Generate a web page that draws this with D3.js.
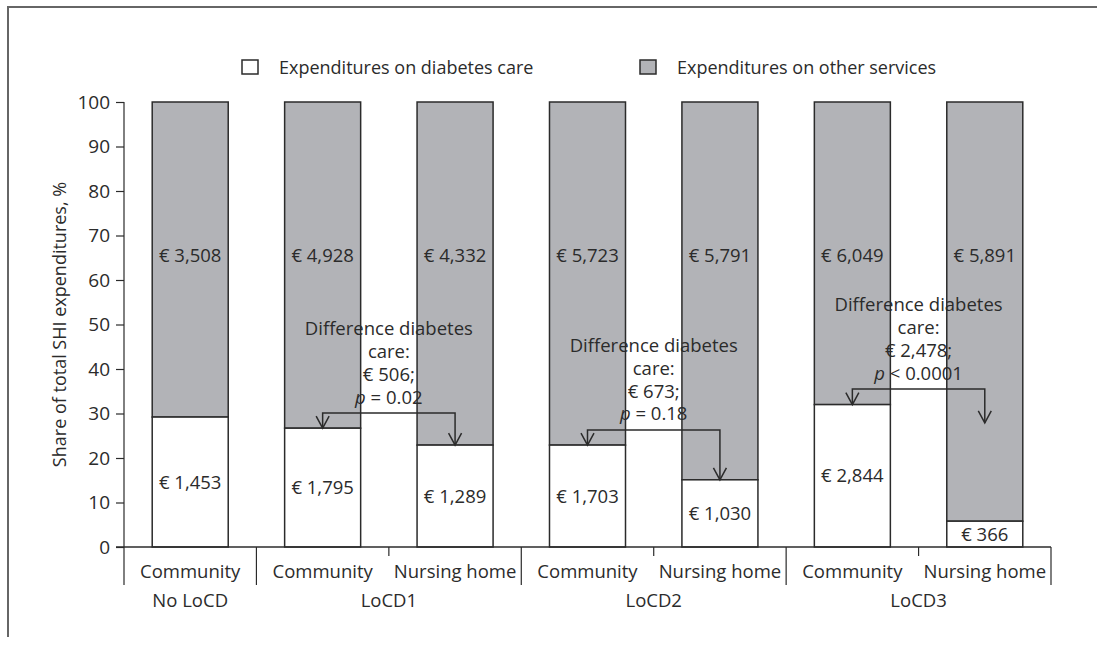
<!DOCTYPE html>
<html><head><meta charset="utf-8">
<script src="https://cdn.jsdelivr.net/npm/d3@7"></script>
<style>body{margin:0;background:#fff}svg{display:block}text{font-family:"Open Sans",sans-serif;fill:#2b2b2b}</style>
</head><body><svg id="c" width="1097" height="652"></svg>
<script>
const categories = ["Community","Community","Nursing home","Community","Nursing home","Community","Nursing home"];
const groups = ["No LoCD","LoCD1","LoCD1","LoCD2","LoCD2","LoCD3","LoCD3"];
const diabetesShare = [29.2, 26.7, 22.9, 22.9, 15.1, 32.0, 5.8];
const diabetesLabels = ["€ 1,453","€ 1,795","€ 1,289","€ 1,703","€ 1,030","€ 2,844","€ 366"];
const otherLabels = ["€ 3,508","€ 4,928","€ 4,332","€ 5,723","€ 5,791","€ 6,049","€ 5,891"];
const yTicks = [0,10,20,30,40,50,60,70,80,90,100];
const seriesNames = ["Expenditures on diabetes care","Expenditures on other services"];
const bracketFrom = [1,3,5];
const bracketTo = [2,4,6];
const bracketLevel = [30.1, 26.3, 35.5];
const bracketRightEnd = [22.9, 15.1, 27.9];
const bracketDiff = ["€ 506;","€ 673;","€ 2,478;"];
const bracketP = [" = 0.02"," = 0.18"," < 0.0001"];

const svg = d3.select("#c");
const ink = "#2b2b2b";
const grayFill = "#b2b3b7";
const fs = 18.5;

// frame
svg.append("line").attr("x1",8).attr("x2",1097).attr("y1",7).attr("y2",7).attr("stroke","#666").attr("stroke-width",2);
svg.append("line").attr("x1",8).attr("x2",8).attr("y1",6).attr("y2",637).attr("stroke","#666").attr("stroke-width",2);

const x = d3.scaleBand().domain(d3.range(categories.length)).range([124,1051]).padding(0);
const y = d3.scaleLinear().domain([0,100]).range([547,102]);
const barW = x.bandwidth()*0.574;
const cx = i => x(i)+x.bandwidth()/2;

// y axis
const yAxis = d3.axisLeft(y).tickValues(yTicks).tickSize(8).tickPadding(6);
const ga = svg.append("g").attr("transform","translate(124,0)").call(yAxis);
ga.select(".domain").remove();
ga.selectAll(".tick line").attr("stroke",ink).attr("stroke-width",1.2);
ga.selectAll(".tick text").attr("font-size",19).attr("font-family","Open Sans").attr("fill",ink);
svg.append("line").attr("x1",124).attr("x2",124).attr("y1",y(100)).attr("y2",585).attr("stroke",ink).attr("stroke-width",1.2);

svg.append("text").attr("transform",`translate(66,${(y(0)+y(100))/2}) rotate(-90)`)
  .attr("text-anchor","middle").attr("font-size",18).text("Share of total SHI expenditures, %");

// bars
const bars = svg.append("g");
categories.forEach((c,i)=>{
  bars.append("rect").attr("x",cx(i)-barW/2).attr("width",barW)
    .attr("y",y(100)).attr("height",y(diabetesShare[i])-y(100))
    .attr("fill",grayFill).attr("stroke",ink).attr("stroke-width",1.5);
  bars.append("rect").attr("x",cx(i)-barW/2).attr("width",barW)
    .attr("y",y(diabetesShare[i])).attr("height",y(0)-y(diabetesShare[i]))
    .attr("fill","#fff").attr("stroke",ink).attr("stroke-width",1.5);
  svg.append("text").attr("x",cx(i)).attr("y",y(diabetesShare[i]/2)+6.5).attr("text-anchor","middle")
    .attr("font-size",fs).text(diabetesLabels[i]);
  svg.append("text").attr("x",cx(i)).attr("y",y(65.5)+6.5).attr("text-anchor","middle")
    .attr("font-size",fs).text(otherLabels[i]);
});

// x axis line & dividers
svg.append("line").attr("x1",116).attr("x2",1051).attr("y1",y(0)).attr("y2",y(0)).attr("stroke",ink).attr("stroke-width",1.5);
for(let i=1;i<=categories.length;i++){
  const xb = x(i-1)+x.bandwidth();
  const long = i===categories.length || groups[i]!==groups[i-1];
  svg.append("line").attr("x1",xb).attr("x2",xb).attr("y1",y(0)).attr("y2",long?585:556)
    .attr("stroke",ink).attr("stroke-width",1.2);
}
categories.forEach((c,i)=>{
  svg.append("text").attr("x",cx(i)).attr("y",578).attr("text-anchor","middle").attr("font-size",fs).text(c);
});
const uniq = Array.from(new Set(groups));
uniq.forEach(g=>{
  const idx = groups.map((v,i)=>v===g?i:-1).filter(v=>v>=0);
  const mid = (x(idx[0]) + x(idx[idx.length-1])+x.bandwidth())/2;
  svg.append("text").attr("x",mid).attr("y",607).attr("text-anchor","middle").attr("font-size",fs).text(g);
});

// brackets
function arrowHead(px,py){
  svg.append("path").attr("d",`M${px-6.5},${py-12}L${px},${py}L${px+6.5},${py-12}`)
    .attr("fill","none").attr("stroke",ink).attr("stroke-width",1.5);
}
bracketFrom.forEach((a,k)=>{
  const b = bracketTo[k];
  const ly = y(bracketLevel[k]);
  const x1 = cx(a), x2 = cx(b);
  const yl = y(diabetesShare[a]), yr = y(bracketRightEnd[k]);
  svg.append("path").attr("d",`M${x1},${yl}L${x1},${ly}L${x2},${ly}L${x2},${yr}`)
    .attr("fill","none").attr("stroke",ink).attr("stroke-width",1.5);
  arrowHead(x1,yl); arrowHead(x2,yr);
  const mx = (x1+x2)/2;
  const lines = ["Difference diabetes","care:",bracketDiff[k]];
  lines.forEach((t,j)=>{
    svg.append("text").attr("x",mx).attr("y",ly-16-(3-j)*22.7+6.5).attr("text-anchor","middle").attr("font-size",fs).text(t);
  });
  const pt = svg.append("text").attr("x",mx).attr("y",ly-16+6.5).attr("text-anchor","middle").attr("font-size",fs);
  pt.append("tspan").attr("font-style","italic").text("p");
  pt.append("tspan").text(bracketP[k]);
});

// legend
const legX = [242, 640];
seriesNames.forEach((s,i)=>{
  svg.append("rect").attr("x",legX[i]).attr("y",60).attr("width",16).attr("height",14)
    .attr("fill",i===0?"#fff":grayFill).attr("stroke",ink).attr("stroke-width",1.5);
  svg.append("text").attr("x",legX[i]+37).attr("y",73.5).attr("font-size",18).text(s);
});
</script></body></html>
